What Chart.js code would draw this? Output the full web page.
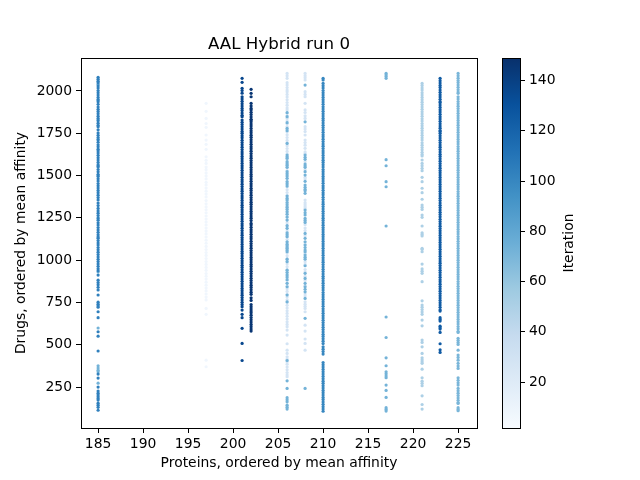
<!DOCTYPE html>
<html>
<head>
<meta charset="utf-8">
<title>AAL Hybrid run 0</title>
<script src="https://cdn.jsdelivr.net/npm/chart.js@4/dist/chart.umd.min.js"></script>
<style>
    html, body { margin: 0; padding: 0; background: #fff; }
    canvas { position: absolute; left: 0; top: 0; }
</style>
</head>
<body>
<canvas id="scatter" width="640" height="480"></canvas>
<canvas id="colorbar" width="640" height="480"></canvas>
<script>
// ? values
var xTicks = [185, 190, 195, 200, 205, 210, 215, 220, 225];
var yTicks = [250, 500, 750, 1000, 1250, 1500, 1750, 2000];
var barTicks = [20, 40, 60, 80, 100, 120, 140];
var iterationRange = [1.7, 149];

var drugs185 = [2081, 2070, 2058, 2049, 2030, 2017, 2003, 1990, 1976, 1962, 1949, 1936, 1921, 1905, 1892, 1879, 1866, 1851, 1838, 1824, 1810, 1797, 1788, 1771, 1752, 1738, 1725, 1710, 1697, 1682, 1670, 1656, 1646, 1633, 1620, 1606, 1592, 1578, 1564, 1556, 1550, 1536, 1522, 1508, 1495, 1481, 1468, 1453, 1440, 1426, 1412, 1399, 1384, 1370, 1356, 1338, 1323, 1306, 1291, 1278, 1264, 1250, 1236, 1221, 1208, 1193, 1179, 1165, 1151, 1138, 1130, 1116, 1102, 1089, 1075, 1061, 1047, 1033, 1019, 1005, 992, 978, 964, 950, 937, 912, 882, 868, 855, 840, 824, 794, 752, 740, 731, 722, 695, 660, 577, 551, 463, 327, 303, 250, 226, 214, 203, 192, 182, 173, 155, 143, 130, 113];
var drugs185Light = [2040, 1945, 1830, 1715, 1500, 1245, 930, 599, 376, 362, 350, 340, 273];
var drugs197 = [1927, 1880, 1838, 1808, 1785, 1740, 1710, 1685, 1655, 1611, 1590, 1572, 1550, 1535, 1516, 1498, 1480, 1460, 1445, 1426, 1408, 1391, 1374, 1352, 1333, 1315, 1298, 1280, 1261, 1243, 1225, 1208, 1190, 1172, 1155, 1137, 1118, 1100, 1081, 1063, 1045, 1028, 1010, 992, 975, 957, 940, 921, 905, 888, 870, 852, 835, 818, 800, 782, 765, 715, 680, 409, 370];
var drugs201 = [2075, 2051, 2016, 2003, 1987, 1966, 1953, 1939, 1925, 1911, 1897, 1884, 1870, 1856, 1848, 1828, 1815, 1802, 1788, 1775, 1761, 1750, 1736, 1723, 1709, 1695, 1682, 1668, 1654, 1640, 1627, 1613, 1600, 1586, 1572, 1558, 1545, 1531, 1517, 1503, 1490, 1476, 1463, 1449, 1435, 1421, 1408, 1394, 1380, 1367, 1353, 1339, 1325, 1312, 1298, 1285, 1271, 1257, 1243, 1230, 1216, 1203, 1189, 1175, 1161, 1148, 1134, 1121, 1107, 1093, 1079, 1066, 1052, 1039, 1025, 1011, 997, 984, 970, 957, 943, 929, 915, 902, 888, 875, 861, 847, 833, 820, 806, 793, 779, 765, 751, 738, 725, 705, 680, 660, 597, 508, 407];
var drugs202 = [2010, 1986, 1966, 1927, 1912, 1897, 1888, 1874, 1861, 1847, 1833, 1828, 1818, 1805, 1793, 1779, 1765, 1753, 1739, 1726, 1712, 1698, 1685, 1671, 1658, 1644, 1630, 1616, 1603, 1589, 1576, 1562, 1548, 1534, 1521, 1507, 1494, 1480, 1466, 1452, 1439, 1425, 1412, 1398, 1384, 1370, 1357, 1343, 1330, 1316, 1302, 1288, 1275, 1261, 1248, 1234, 1217, 1208, 1194, 1180, 1167, 1153, 1139, 1126, 1112, 1098, 1085, 1071, 1057, 1044, 1030, 1016, 1003, 989, 975, 962, 948, 934, 921, 907, 893, 880, 866, 852, 839, 825, 811, 798, 778, 762, 738, 725, 712, 699, 689, 675, 661, 648, 634, 620, 607, 593, 581];
var drugs206Light = [2104, 2090, 2075, 2049, 2035, 2020, 2006, 1996, 1980, 1964, 1948, 1932, 1916, 1900, 1888, 1871, 1855, 1838, 1822, 1806, 1790, 1773, 1757, 1741, 1725, 1708, 1692, 1676, 1660, 1643, 1627, 1611, 1595, 1578, 1562, 1546, 1530, 1513, 1497, 1481, 1465, 1448, 1432, 1416, 1400, 1383, 1367, 1351, 1335, 1318, 1302, 1286, 1270, 1253, 1237, 1221, 1205, 1188, 1172, 1156, 1140, 1123, 1107, 1091, 1075, 1058, 1042, 1026, 1010, 993, 977, 961, 945, 928, 912, 896, 880, 863, 847, 831, 815, 798, 782, 766, 750, 733, 717, 701, 685, 668, 652, 636, 620, 606, 587, 557, 506, 468, 449, 429, 415, 400, 385, 368, 352, 336, 322, 311];
var drugs206 = [1872, 1848, 1813, 1779, 1765, 1690, 1621, 1611, 1602, 1582, 1570, 1560, 1549, 1523, 1510, 1497, 1484, 1464, 1451, 1438, 1379, 1365, 1355, 1341, 1327, 1313, 1300, 1286, 1272, 1255, 1237, 1204, 1188, 1162, 1150, 1139, 1109, 1095, 1080, 1060, 1089, 1070, 1050, 1006, 991, 941, 927, 913, 900, 885, 863, 843, 794, 754, 407, 287, 242, 187, 175, 163, 143, 131, 120];
var drugs208Light = [2104, 2090, 2078, 2065, 1996, 1980, 1966, 1927, 1888, 1873, 1853, 1838, 1789, 1775, 1760, 1740, 1710, 1695, 1680, 1661, 1640, 1630, 1582, 1535, 1490, 1480, 1355, 1340, 1328, 1316, 1306, 1210, 1190, 1175, 1145, 1095, 1040, 990, 975, 945, 930, 905, 880, 850, 800, 788, 754, 740, 727, 715, 695, 616, 581, 534, 508, 468];
var drugs208 = [2035, 1818, 1621, 1608, 1596, 1568, 1558, 1549, 1523, 1503, 1466, 1444, 1431, 1418, 1411, 1395, 1296, 1281, 1267, 1247, 1235, 1223, 1158, 1129, 1109, 1089, 1075, 1060, 1050, 1030, 1018, 1006, 967, 922, 892, 863, 843, 828, 813, 774, 656, 242];
var drugs210 = [2075, 2065, 2045, 2031, 2017, 2003, 1989, 1976, 1962, 1948, 1935, 1921, 1907, 1893, 1880, 1866, 1852, 1838, 1825, 1811, 1797, 1784, 1770, 1756, 1742, 1729, 1715, 1701, 1687, 1674, 1660, 1646, 1633, 1619, 1605, 1591, 1578, 1564, 1550, 1536, 1523, 1509, 1495, 1482, 1468, 1454, 1440, 1427, 1413, 1399, 1386, 1372, 1358, 1344, 1331, 1317, 1303, 1289, 1276, 1262, 1248, 1235, 1221, 1207, 1193, 1180, 1166, 1152, 1139, 1125, 1111, 1097, 1084, 1070, 1056, 1042, 1029, 1015, 1001, 988, 974, 960, 946, 933, 919, 905, 892, 878, 864, 850, 837, 823, 809, 795, 782, 768, 754, 741, 727, 713, 699, 686, 672, 658, 645, 631, 617, 603, 590, 576, 562, 549, 535, 521, 507, 488, 474, 460, 445, 395, 382, 368, 354, 340, 327, 313, 299, 285, 272, 258, 244, 230, 217, 203, 189, 176, 162, 148, 134, 120, 107];
var drugs217 = [2104, 2095, 2085, 2075, 1594, 1558, 1464, 1434, 1202, 664, 543, 423, 376, 340, 328, 316, 305, 262, 230, 189, 128, 118, 108];
var drugs221 = [2045, 2032, 2018, 2006, 1990, 1976, 1962, 1948, 1934, 1920, 1906, 1892, 1878, 1864, 1850, 1836, 1822, 1808, 1794, 1780, 1766, 1752, 1738, 1724, 1710, 1694, 1680, 1666, 1652, 1638, 1625, 1616, 1592, 1572, 1558, 1543, 1529, 1490, 1464, 1425, 1399, 1360, 1326, 1313, 1300, 1267, 1253, 1202, 1162, 1152, 1143, 1064, 1070, 1050, 977, 948, 935, 922, 873, 760, 735, 722, 708, 694, 680, 646, 612, 528, 514, 488, 449, 423, 411, 400, 390, 356, 305, 285, 272, 258, 198, 147, 120];
var drugs223 = [2075, 2061, 2047, 2033, 2020, 2006, 1992, 1978, 1965, 1951, 1937, 1931, 1917, 1903, 1889, 1876, 1862, 1848, 1835, 1821, 1807, 1793, 1780, 1766, 1760, 1750, 1736, 1722, 1709, 1695, 1681, 1668, 1654, 1640, 1626, 1613, 1599, 1585, 1571, 1558, 1544, 1530, 1517, 1503, 1489, 1475, 1462, 1448, 1434, 1420, 1407, 1393, 1379, 1366, 1352, 1338, 1324, 1311, 1297, 1283, 1270, 1256, 1242, 1228, 1215, 1201, 1187, 1174, 1160, 1146, 1132, 1119, 1105, 1091, 1078, 1064, 1050, 1036, 1023, 1009, 995, 982, 968, 954, 940, 927, 913, 899, 885, 872, 858, 844, 831, 817, 803, 789, 776, 762, 748, 735, 721, 707, 699, 660, 650, 640, 610, 601, 593, 573, 506, 470, 455];
var drugs225 = [2104, 2090, 2076, 2062, 2050, 2036, 2022, 2008, 1994, 1986, 1966, 1952, 1938, 1924, 1910, 1896, 1882, 1868, 1854, 1840, 1826, 1812, 1798, 1784, 1770, 1756, 1742, 1728, 1714, 1700, 1686, 1672, 1658, 1644, 1630, 1616, 1602, 1588, 1574, 1560, 1546, 1532, 1518, 1504, 1490, 1476, 1462, 1448, 1434, 1420, 1406, 1392, 1378, 1364, 1350, 1336, 1322, 1308, 1294, 1280, 1266, 1252, 1238, 1224, 1210, 1196, 1182, 1168, 1154, 1140, 1126, 1112, 1098, 1084, 1070, 1056, 1042, 1028, 1014, 1000, 986, 972, 958, 944, 930, 916, 902, 888, 874, 860, 846, 832, 818, 804, 790, 776, 762, 748, 734, 720, 706, 692, 678, 664, 650, 636, 622, 608, 594, 580, 573, 538, 526, 514, 502, 468, 439, 425, 409, 390, 375, 360, 305, 290, 275, 262, 242, 228, 214, 200, 186, 172, 158, 153, 128, 118, 110];

var proteinSeries = [
    [202, 146, drugs202],
    [201, 136, drugs201],
    [223, 125, drugs223],
    [185, 104, drugs185],
    [210, 100, drugs210],
    [206, 72, drugs206],
    [208, 72, drugs208],
    [185, 72, drugs185Light],
    [217, 72, drugs217],
    [225, 70, drugs225],
    [221, 50, drugs221],
    [206, 28, drugs206Light],
    [208, 28, drugs208Light],
    [197, 7, drugs197],
];

// matplotlib "Blues"
var blues = ["#f7fbff", "#deebf7", "#c6dbef", "#9ecae1", "#6baed6", "#4292c6", "#2171b5", "#08519c", "#08306b"];

function hexToRgb(hex) {
    return [1, 3, 5].map(function (i) {
        return parseInt(hex.substr(i, 2), 16);
    });
}

function iterationColor(iter) {
    var t = (iter - iterationRange[0]) / (iterationRange[1] - iterationRange[0]);
    var pos = Math.min(t * (blues.length - 1), blues.length - 1.001);
    var i = Math.floor(pos);
    var a = hexToRgb(blues[i]);
    var b = hexToRgb(blues[i + 1]);
    var f = pos - i;
    return "rgb(" + a.map(function (v, k) {
        return Math.round(v + (b[k] - v) * f);
    }).join(",") + ")";
}

var font = "'DejaVu Sans', sans-serif";
Chart.defaults.font.family = font;
Chart.defaults.color = "#000";

// top and right spines
var framePlugin = {
    id: "frame",
    afterDraw: function (chart) {
        var a = chart.chartArea;
        var c = chart.ctx;
        c.save();
        c.strokeStyle = "#000";
        c.lineWidth = 1;
        c.strokeRect(a.left + 0.5, a.top + 0.5, a.right - a.left, a.bottom - a.top);
        c.restore();
    },
};

// right hand axis title has to read bottom to top
var barTitlePlugin = {
    id: "barTitle",
    afterDraw: function (chart) {
        var c = chart.ctx;
        c.save();
        c.translate(569, 243);
        c.rotate(-Math.PI / 2);
        c.textAlign = "center";
        c.textBaseline = "middle";
        c.fillStyle = "#000";
        c.font = "13.9px " + font;
        c.fillText("Iteration", 0, 0);
        c.restore();
    },
};

function tickMarks() {
    return { drawOnChartArea: false, drawTicks: true, tickLength: 5, tickColor: "#000", tickWidth: 1 };
}

function plainTick(value) {
    return String(value);
}

var scatterChart = new Chart(document.getElementById("scatter"), {
    type: "scatter",
    data: {
        datasets: proteinSeries.map(function (s) {
            return {
                label: "Protein " + s[0] + ", iteration " + s[1],
                data: s[2].map(function (d) {
                    return { x: s[0], y: d };
                }),
                backgroundColor: iterationColor(s[1]),
                pointRadius: 1.6,
                pointBorderWidth: 0,
            };
        }),
    },
    options: {
        responsive: false,
        animation: false,
        layout: { padding: { left: 0, right: 163, top: 0, bottom: 0 } },
        plugins: {
            legend: { display: false },
            tooltip: { enabled: false },
            title: {
                display: true,
                text: "AAL Hybrid run 0",
                color: "#000",
                fullSize: false,
                font: { size: 16.67, weight: "normal" },
                padding: { top: 35, bottom: 3 },
            },
        },
        scales: {
            x: {
                type: "linear",
                min: 183.1,
                max: 227.1,
                afterBuildTicks: function (axis) {
                    axis.ticks = xTicks.map(function (v) {
                        return { value: v };
                    });
                },
                afterFit: function (axis) {
                    axis.height = 52;
                },
                ticks: { font: { size: 13.9 }, padding: 3, maxRotation: 0, autoSkip: false, callback: plainTick },
                grid: tickMarks(),
                border: { display: true, color: "#000", width: 1 },
                title: {
                    display: true,
                    text: "Proteins, ordered by mean affinity",
                    color: "#000",
                    font: { size: 13.9 },
                    padding: { top: 3, bottom: 8 },
                },
            },
            y: {
                type: "linear",
                min: 8,
                max: 2195,
                afterBuildTicks: function (axis) {
                    axis.ticks = yTicks.map(function (v) {
                        return { value: v };
                    });
                },
                afterFit: function (axis) {
                    axis.width = 81;
                },
                ticks: { font: { size: 13.9 }, padding: 4, autoSkip: false, callback: plainTick },
                grid: tickMarks(),
                border: { display: true, color: "#000", width: 1 },
                title: {
                    display: true,
                    text: "Drugs, ordered by mean affinity",
                    color: "#000",
                    font: { size: 13.9 },
                    padding: { top: 13, bottom: 0 },
                },
            },
        },
    },
    plugins: [framePlugin],
});

var barChart = new Chart(document.getElementById("colorbar"), {
    type: "bar",
    data: {
        labels: ["Iteration"],
        datasets: [
            {
                data: [iterationRange],
                borderWidth: 0,
                categoryPercentage: 1,
                barPercentage: 1,
                backgroundColor: function (context) {
                    var area = context.chart.chartArea;
                    if (!area) return blues[4];
                    var g = context.chart.ctx.createLinearGradient(0, area.bottom, 0, area.top);
                    blues.forEach(function (col, i) {
                        g.addColorStop(i / (blues.length - 1), col);
                    });
                    return g;
                },
            },
        ],
    },
    options: {
        responsive: false,
        animation: false,
        layout: { padding: { left: 502, right: 0, top: 58, bottom: 52 } },
        plugins: { legend: { display: false }, tooltip: { enabled: false } },
        scales: {
            x: { display: false },
            y: {
                position: "right",
                min: iterationRange[0],
                max: iterationRange[1],
                afterBuildTicks: function (axis) {
                    axis.ticks = barTicks.map(function (v) {
                        return { value: v };
                    });
                },
                afterFit: function (axis) {
                    axis.width = 120;
                },
                ticks: { font: { size: 13.9 }, padding: 4, autoSkip: false, callback: plainTick },
                grid: tickMarks(),
                border: { display: false },
            },
        },
    },
    plugins: [framePlugin, barTitlePlugin],
});
</script>
</body>
</html>
